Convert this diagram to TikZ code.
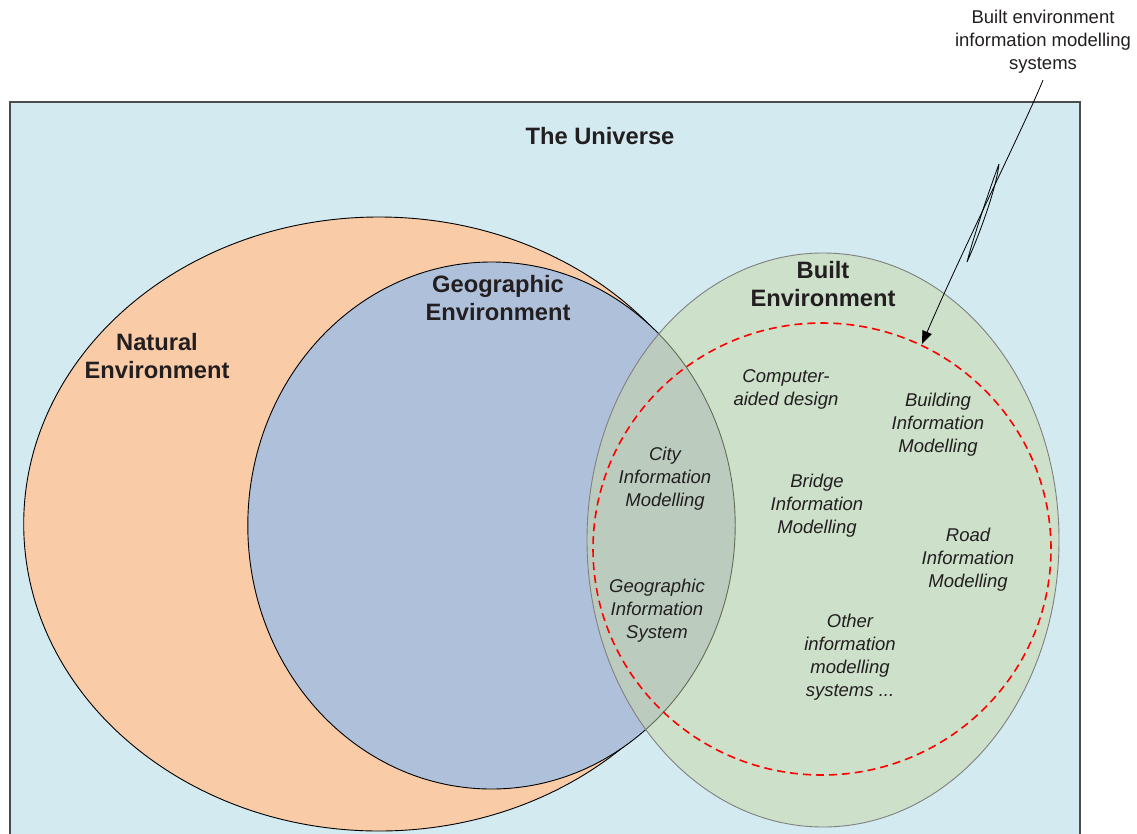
\documentclass[tikz,border=0pt]{standalone}
\usepackage{fontspec}
\setmainfont{Liberation Sans}
\usetikzlibrary{arrows.meta}
\definecolor{univ}{RGB}{210,234,240}
\definecolor{natfill}{RGB}{249,203,167}
\definecolor{geofill}{RGB}{175,193,218}
\definecolor{builtfill}{RGB}{200,216,166}
\definecolor{txt}{RGB}{35,31,32}
\begin{document}
\begin{tikzpicture}[x=1pt,y=-1pt,
  biglabel/.style={font=\fontsize{23.7}{28}\selectfont\bfseries, text=txt, align=center, inner sep=0pt},
  itlabel/.style={font=\fontsize{18.5}{23}\selectfont\itshape, text=txt, align=center, inner sep=0pt},
  annlabel/.style={font=\fontsize{18.5}{23}\selectfont, text=txt, align=center, inner sep=0pt},
  region/.style={line width=0.9pt}
]
\clip (0,0) rectangle (1137,833);
\fill[white] (0,0) rectangle (1137,833);
% universe
\draw[fill=univ, draw=black!70, line width=1.2pt] (10,102) rectangle (1080,850);
% natural environment
\draw[region, fill=natfill, draw=black] (379,524) ellipse [x radius=355.3pt, y radius=307pt];
% geographic environment
\draw[region, fill=geofill, draw=black] (491.5,525.5) ellipse [x radius=243.7pt, y radius=263.5pt];
% built environment
\fill[builtfill, fill opacity=0.5] (823,540) ellipse [x radius=236pt, y radius=287pt];
\draw[line width=0.9pt, draw=black!50] (823,540) ellipse [x radius=236pt, y radius=287pt];
% modelling systems boundary
\draw[red, line width=1.6pt, dash pattern=on 8pt off 5pt] (822,549) ellipse [x radius=229pt, y radius=226pt];

% labels
\node[biglabel] (univlbl) at (600,136) {The Universe};
\node[biglabel] (natlbl) at (157,356) {Natural\\Environment};
\node[biglabel] (geolbl) at (498,298) {Geographic\\Environment};
\node[biglabel] (builtlbl) at (823,284.5) {Built\\Environment};

\node[itlabel] (cad) at (786,389) {Computer-\\aided design};
\node[itlabel] (bim) at (938,425) {Building\\Information\\Modelling};
\node[itlabel] (cim) at (665,479) {City\\Information\\Modelling};
\node[itlabel] (brim) at (817,506) {Bridge\\Information\\Modelling};
\node[itlabel] (rim) at (968,560) {Road\\Information\\Modelling};
\node[itlabel] (gis) at (657,611) {Geographic\\Information\\System};
\node[itlabel] (other) at (850,657) {Other\\information\\modelling\\systems ...};

\node[annlabel] (ann) at (1043,42) {Built environment\\information modelling\\systems};

% annotation arrow
\coordinate (astart) at (1043,80);
\coordinate (atip) at (922,344);
\draw[line width=0.8pt, -{Triangle[length=13pt,width=10pt]}] (astart) .. controls (1028,118) and (960,255) .. (atip);
\coordinate (loopa) at (999,164);
\coordinate (loopb) at (967,262);
\draw[line width=0.8pt] (loopa) .. controls (991,185) and (974,235) .. (loopb)
  .. controls (978,238) and (996,190) .. (loopa);
\end{tikzpicture}
\end{document}
